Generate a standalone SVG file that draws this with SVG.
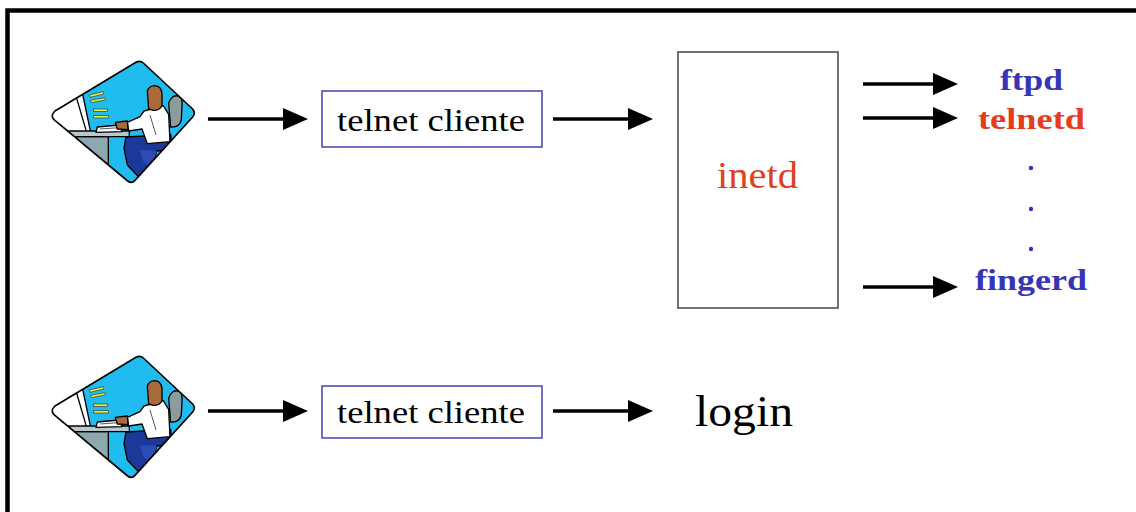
<svg xmlns="http://www.w3.org/2000/svg" width="1136" height="512" viewBox="0 0 1136 512">
  <style>
    text { font-family: "Liberation Serif", "Times New Roman", Times, serif; }
    .box { fill: #ffffff; stroke: #4444b0; stroke-width: 1.5; }
    .inetd-box { fill: #ffffff; stroke: #444444; stroke-width: 1.5; }
    .arrow { stroke: #000000; stroke-width: 3.5; fill: none; marker-end: url(#head); }
    .svc { font-weight: bold; font-size: 30px; }
    .blue { fill: #3535b5; }
    .red { fill: #e43c1c; }
    .ol { stroke: #000000; stroke-width: 4; stroke-linejoin: round; }
  </style>
  <defs>
    <marker id="head" markerUnits="userSpaceOnUse" markerWidth="25" markerHeight="22" refX="0" refY="11" orient="auto">
      <path d="M0,0 L25,11 L0,22 Z" fill="#000000"/>
    </marker>
    <clipPath id="diamondClip">
      <path d="M45,228 L288,82 Q300,75 310,84 L458,222 Q468,234 458,246 L285,436 Q275,447 263,438 L42,254 Q30,242 45,228 Z"/>
    </clipPath>
    <!-- workstation clip-art, drawn at 3x and scaled down on use -->
    <symbol id="user" overflow="visible">
      <path d="M45,228 L288,82 Q300,75 310,84 L458,222 Q468,234 458,246 L285,436 Q275,447 263,438 L42,254 Q30,242 45,228 Z" fill="#20bcef"/>
      <g clip-path="url(#diamondClip)">
        <!-- monitor -->
        <path class="ol" d="M20,240 L108,183 L126,168 L152,292 L90,298 L20,300 Z" fill="#ffffff"/>
        <path class="ol" d="M108,183 L140,292" fill="none"/>
        <path d="M40,232 Q30,240 40,250" stroke="#000" stroke-width="3" fill="none"/>
        <!-- screen text lines -->
        <g fill="#e8f040" stroke="#333" stroke-width="2">
          <path d="M132,152 L165,140 L167,147 L134,159 Z"/>
          <path d="M148,180 L190,170 L192,177 L150,187 Z"/>
          <path d="M152,196 L195,188 L196,195 L153,203 Z"/>
          <rect x="160" y="222" width="42" height="7"/>
          <rect x="160" y="242" width="46" height="7"/>
        </g>
        <!-- desk -->
        <path class="ol" d="M100,305 L205,305 L205,400 L100,400 Z" fill="#8ea8b0"/>
        <path class="ol" d="M82,288 L268,288 L268,305 L96,305 Z" fill="#b8c8cc"/>
        <!-- keyboard -->
        <path class="ol" d="M172,276 L238,270 L246,290 L168,292 Z" fill="#ffffff"/>
        <path d="M180,282 L236,278" stroke="#000" stroke-width="2"/>
        <!-- chair -->
        <path class="ol" d="M386,205 Q396,176 418,184 Q428,190 426,215 L424,255 Q418,278 392,276 Z" fill="#8a9c9c"/>
        <!-- legs -->
        <path class="ol" d="M258,306 L392,298 L396,345 L350,348 L335,420 L300,430 L262,390 L252,340 Z" fill="#1c3898"/>
        <path d="M300,345 L350,348 L338,400 L310,380 Z" fill="#2d4cb8"/>
        <!-- shirt and arm -->
        <path class="ol" d="M312,228 L370,212 L386,238 L390,320 L322,326 L306,282 L266,288 L262,262 L300,245 Z" fill="#ffffff"/>
        <path d="M330,240 L348,300" stroke="#000" stroke-width="2" fill="none"/>
        <!-- hand -->
        <path class="ol" d="M226,262 L262,258 L264,284 L232,282 Z" fill="#a86c3a"/>
        <!-- head -->
        <path class="ol" d="M322,170 Q326,152 345,152 Q364,154 366,175 L366,212 Q360,226 340,226 L326,222 Z" fill="#a86c3a"/>
      </g>
      <path d="M45,228 L288,82 Q300,75 310,84 L458,222 Q468,234 458,246 L285,436 Q275,447 263,438 L42,254 Q30,242 45,228 Z" fill="none" stroke="#000" stroke-width="5" stroke-linejoin="round"/>
    </symbol>
  </defs>

  <rect x="0" y="0" width="1136" height="512" fill="#ffffff"/>
  <!-- outer frame -->
  <rect x="7.5" y="10.5" width="1140" height="520" fill="none" stroke="#000000" stroke-width="4.5"/>

  <g id="user-top">
    <use href="#user" transform="translate(40,35) scale(0.3333)"/>
  </g>
  <g id="user-bottom">
    <use href="#user" transform="translate(40,330) scale(0.3333)"/>
  </g>

  <g id="telnet-client-top">
    <rect class="box" x="322" y="91" width="220" height="56"/>
    <text x="337" y="131" font-size="32" textLength="188" lengthAdjust="spacingAndGlyphs" fill="#000">telnet cliente</text>
  </g>
  <g id="telnet-client-bottom">
    <rect class="box" x="322" y="386" width="220" height="52"/>
    <text x="337" y="423" font-size="32" textLength="188" lengthAdjust="spacingAndGlyphs" fill="#000">telnet cliente</text>
  </g>

  <g id="inetd">
    <rect class="inetd-box" x="678" y="52" width="160" height="256"/>
    <text x="717" y="188" font-size="37" textLength="81" lengthAdjust="spacingAndGlyphs" fill="#e04020">inetd</text>
  </g>

  <g id="ftpd">
    <text class="svc blue" x="1000" y="90" textLength="63" lengthAdjust="spacingAndGlyphs">ftpd</text>
  </g>
  <g id="telnetd">
    <text class="svc red" x="978" y="129" textLength="107" lengthAdjust="spacingAndGlyphs">telnetd</text>
  </g>
  <g id="more-services">
    <circle class="blue" cx="1031" cy="168" r="2.2"/>
    <circle class="blue" cx="1031" cy="209" r="2.2"/>
    <circle class="blue" cx="1031" cy="249" r="2.2"/>
  </g>
  <g id="fingerd">
    <text class="svc blue" x="975" y="290" textLength="112" lengthAdjust="spacingAndGlyphs">fingerd</text>
  </g>

  <g id="login">
    <text x="695" y="426" font-size="44" textLength="98" lengthAdjust="spacingAndGlyphs" fill="#000">login</text>
  </g>

  <g id="connectors">
    <line class="arrow" x1="208" y1="119" x2="283" y2="119"/>
    <line class="arrow" x1="553" y1="119" x2="628" y2="119"/>
    <line class="arrow" x1="863" y1="84" x2="933" y2="84"/>
    <line class="arrow" x1="863" y1="118" x2="933" y2="118"/>
    <line class="arrow" x1="863" y1="287" x2="933" y2="287"/>
    <line class="arrow" x1="208" y1="411" x2="283" y2="411"/>
    <line class="arrow" x1="553" y1="411" x2="628" y2="411"/>
  </g>
</svg>
